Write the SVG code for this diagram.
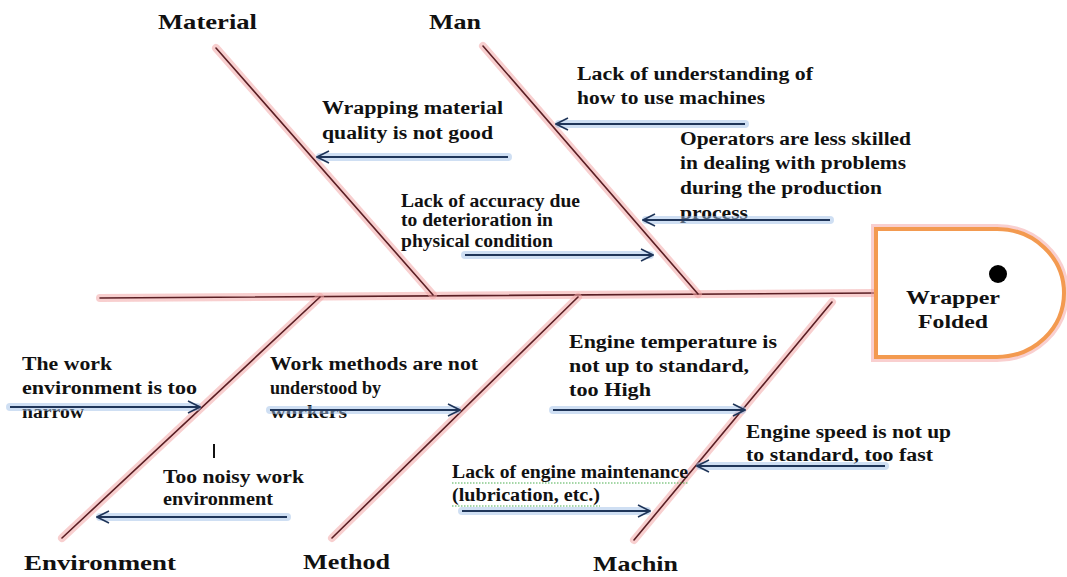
<svg xmlns="http://www.w3.org/2000/svg" width="1067" height="577" viewBox="0 0 1067 577">
<defs>
<style>
.glow{stroke:#f2a7a7;stroke-width:8;stroke-opacity:0.55;stroke-linecap:round;fill:none}
.bone{stroke:#5a1f24;stroke-width:1.6;fill:none;stroke-linecap:round}
.aglow{stroke:#9fbfe8;stroke-width:8;stroke-opacity:0.5;stroke-linecap:round;fill:none}
.arr{stroke:#1f3559;stroke-width:1.8;fill:none;marker-end:url(#open)}
.t{font-family:"Liberation Serif","Times New Roman",serif;font-weight:bold;font-size:18px;fill:#111}
.lab{font-family:"Liberation Serif","Times New Roman",serif;font-weight:bold;font-size:21px;fill:#111}
.spell{stroke:#4caf50;stroke-width:1.2;stroke-dasharray:1.5 1.5;fill:none}
</style>
<marker id="open" viewBox="0 0 14 14" refX="13" refY="7" markerWidth="14" markerHeight="14" markerUnits="userSpaceOnUse" orient="auto">
<path d="M1,1 L13,7 L1,13" fill="none" stroke="#1f3559" stroke-width="1.6"/>
</marker>
</defs>
<rect width="1067" height="577" fill="#fff"/>

<g id="spine">
<line class="glow" x1="100" y1="298" x2="876" y2="293"/>
<line class="bone" x1="100" y1="298" x2="876" y2="293"/>
</g>

<g id="head">
<path d="M876,229 H997 A67 64 0 0 1 997,357 H876 Z" fill="none" stroke="#f4a0a0" stroke-width="10" stroke-opacity="0.5"/>
<path d="M876,229 H997 A67 64 0 0 1 997,357 H876 Z" fill="#fff" stroke="#f39a50" stroke-width="4"/>
<circle cx="998" cy="274" r="9" fill="#000"/>
<text class="t" x="906" y="304" textLength="94" lengthAdjust="spacingAndGlyphs">Wrapper</text>
<text class="t" x="918" y="328" textLength="70" lengthAdjust="spacingAndGlyphs">Folded</text>
</g>

<g id="material">
<line class="glow" x1="216" y1="48" x2="433" y2="295"/>
<line class="bone" x1="216" y1="48" x2="433" y2="295"/>
<text class="lab" x="158" y="29" textLength="99" lengthAdjust="spacingAndGlyphs">Material</text>
<text class="t" x="322" y="114" textLength="181" lengthAdjust="spacingAndGlyphs">Wrapping material</text>
<text class="t" x="322" y="139" textLength="171" lengthAdjust="spacingAndGlyphs">quality is not good</text>
</g>

<g id="man">
<line class="glow" x1="483" y1="46" x2="698" y2="294"/>
<line class="bone" x1="483" y1="46" x2="698" y2="294"/>
<text class="lab" x="429" y="29" textLength="52" lengthAdjust="spacingAndGlyphs">Man</text>
<text class="t" x="577" y="80" textLength="236" lengthAdjust="spacingAndGlyphs">Lack of understanding of</text>
<text class="t" x="577" y="104" textLength="188" lengthAdjust="spacingAndGlyphs">how to use machines</text>
<text class="t" x="680" y="145" textLength="231" lengthAdjust="spacingAndGlyphs">Operators are less skilled</text>
<text class="t" x="680" y="169" textLength="226" lengthAdjust="spacingAndGlyphs">in dealing with problems</text>
<text class="t" x="680" y="194" textLength="202" lengthAdjust="spacingAndGlyphs">during the production</text>
<text class="t" x="680" y="219" textLength="68" lengthAdjust="spacingAndGlyphs">process</text>
<text class="t" x="401" y="207" textLength="179" lengthAdjust="spacingAndGlyphs">Lack of accuracy due</text>
<text class="t" x="401" y="226" textLength="152" lengthAdjust="spacingAndGlyphs">to deterioration in</text>
<text class="t" x="401" y="247" textLength="152" lengthAdjust="spacingAndGlyphs">physical condition</text>
</g>

<g id="environment">
<line class="glow" x1="320" y1="297" x2="62" y2="538"/>
<line class="bone" x1="320" y1="297" x2="62" y2="538"/>
<text class="lab" x="24" y="570" textLength="152" lengthAdjust="spacingAndGlyphs">Environment</text>
<text class="t" x="22" y="370" textLength="90" lengthAdjust="spacingAndGlyphs">The work</text>
<text class="t" x="22" y="394" textLength="175" lengthAdjust="spacingAndGlyphs">environment is too</text>
<text class="t" x="22" y="418" textLength="62" lengthAdjust="spacingAndGlyphs">narrow</text>
<rect x="213" y="444" width="2" height="14" fill="#111"/>
<text class="t" x="163" y="483" textLength="141" lengthAdjust="spacingAndGlyphs">Too noisy work</text>
<text class="t" x="163" y="505" textLength="110" lengthAdjust="spacingAndGlyphs">environment</text>
</g>

<g id="method">
<line class="glow" x1="578" y1="297" x2="332" y2="538"/>
<line class="bone" x1="578" y1="297" x2="332" y2="538"/>
<text class="lab" x="303" y="569" textLength="87" lengthAdjust="spacingAndGlyphs">Method</text>
<text class="t" x="270" y="370" textLength="208" lengthAdjust="spacingAndGlyphs">Work methods are not</text>
<text class="t" x="270" y="394" textLength="111" lengthAdjust="spacingAndGlyphs">understood by</text>
<text class="t" x="270" y="418" textLength="77" lengthAdjust="spacingAndGlyphs">workers</text>
</g>

<g id="machin">
<line class="glow" x1="832" y1="302" x2="634" y2="540"/>
<line class="bone" x1="832" y1="302" x2="634" y2="540"/>
<text class="lab" x="593" y="571" textLength="85" lengthAdjust="spacingAndGlyphs">Machin</text>
<text class="t" x="569" y="348" textLength="208" lengthAdjust="spacingAndGlyphs">Engine temperature is</text>
<text class="t" x="569" y="372" textLength="180" lengthAdjust="spacingAndGlyphs">not up to standard,</text>
<text class="t" x="569" y="396" textLength="82" lengthAdjust="spacingAndGlyphs">too High</text>
<text class="t" x="746" y="438" textLength="205" lengthAdjust="spacingAndGlyphs">Engine speed is not up</text>
<text class="t" x="746" y="461" textLength="187" lengthAdjust="spacingAndGlyphs">to standard, too fast</text>
<text class="t" x="452" y="478" textLength="236" lengthAdjust="spacingAndGlyphs">Lack of engine maintenance</text>
<text class="t" x="452" y="501" textLength="148" lengthAdjust="spacingAndGlyphs">(lubrication, etc.)</text>
<line class="spell" x1="452" y1="483" x2="688" y2="483"/>
<line class="spell" x1="452" y1="506" x2="600" y2="506"/>
</g>

<g id="connectors">
<line class="aglow" x1="508" y1="157" x2="320" y2="157"/>
<line class="arr" x1="508" y1="157" x2="317" y2="157"/>
<line class="aglow" x1="745" y1="124" x2="559" y2="124"/>
<line class="arr" x1="745" y1="124" x2="556" y2="124"/>
<line class="aglow" x1="830" y1="220" x2="646" y2="220"/>
<line class="arr" x1="830" y1="220" x2="643" y2="220"/>
<line class="aglow" x1="465" y1="255" x2="650" y2="255"/>
<line class="arr" x1="465" y1="255" x2="653" y2="255"/>
<line class="aglow" x1="10" y1="407" x2="197" y2="407"/>
<line class="arr" x1="10" y1="407" x2="200" y2="407"/>
<line class="aglow" x1="287" y1="517" x2="100" y2="517"/>
<line class="arr" x1="287" y1="517" x2="97" y2="517"/>
<line class="aglow" x1="270" y1="410" x2="457" y2="410"/>
<line class="arr" x1="270" y1="410" x2="460" y2="410"/>
<line class="aglow" x1="553" y1="410" x2="742" y2="410"/>
<line class="arr" x1="553" y1="410" x2="745" y2="410"/>
<line class="aglow" x1="885" y1="466" x2="700" y2="466"/>
<line class="arr" x1="885" y1="466" x2="697" y2="466"/>
<line class="aglow" x1="462" y1="511" x2="647" y2="511"/>
<line class="arr" x1="462" y1="511" x2="650" y2="511"/>
</g>
</svg>
